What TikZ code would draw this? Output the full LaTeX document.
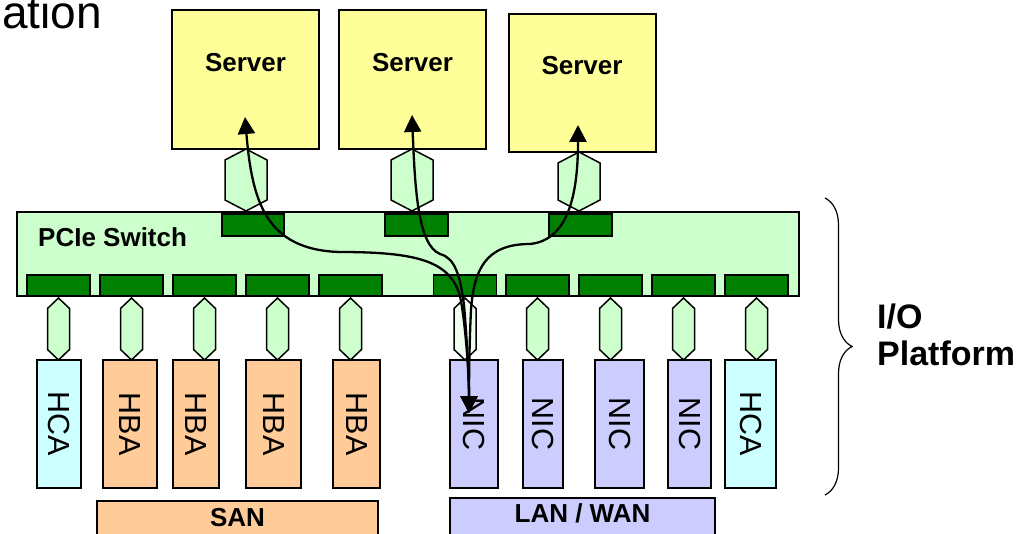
\documentclass[tikz,border=0pt]{standalone}
\usepackage{fontspec}
\usepackage{graphicx}
\setmainfont{Liberation Sans}
\usetikzlibrary{arrows.meta,calc,decorations.pathreplacing}

\definecolor{srvyellow}{HTML}{FFFF99}
\definecolor{swgreen}{HTML}{CCFFCC}
\definecolor{portgreen}{HTML}{008000}
\definecolor{hcacyan}{HTML}{CCFFFF}
\definecolor{hbaorange}{HTML}{FFCC99}
\definecolor{nicblue}{HTML}{CCCCFF}
\definecolor{palegreen}{HTML}{EEFFEE}

\tikzset{
  box/.style={draw=black, line width=1.5pt, inner sep=0pt, outer sep=0pt},
  server/.style={box, fill=srvyellow, minimum width=147pt, minimum height=139pt},
  port/.style={box, fill=portgreen, minimum width=63pt, minimum height=22pt},
  card/.style={box, minimum height=128pt, font=\fontsize{30.5}{30.5}\selectfont},
  bar/.style={box, minimum height=44pt, anchor=north},
  boldlabel/.style={font=\fontsize{26}{26}\selectfont\bfseries, inner sep=0pt},
  link/.style={draw=black, line width=1.5pt, fill=swgreen, line join=miter},
  flow/.style={line width=2.3pt,
    {Triangle[length=17pt 0 0,width=17pt 0 0]}-{Triangle[length=17pt 0 0,width=17pt 0 0]}},
}

% elongated hexagon joining a top point (#2) and a bottom point (#3)
\newcommand\hexlink[5][swgreen]{%
  \draw[link, fill=#1] (#2) -- ($(#2)+(#4,#5)$) -- ($(#3)+(#4,-#5)$) -- (#3)
    -- ($(#3)+(-#4,-#5)$) -- ($(#2)+(-#4,#5)$) -- cycle;}

\begin{document}
\begin{tikzpicture}[x=1pt,y=-1pt]
\useasboundingbox (0,0) rectangle (1030,534);
\clip (0,0) rectangle (1030,534);

% slide title fragment
\node[font=\fontsize{46}{46}\selectfont, anchor=base east, inner sep=0pt] (title) at (102,29) {ation};

% servers
\node[server] (s1) at (245.5,79.5) {};
\node[server] (s2) at (412.5,79.5) {};
\node[server, minimum height=138pt] (s3) at (582.5,83) {};
\node[boldlabel, anchor=base] (s1t) at (245.5,72) {Server};
\node[boldlabel, anchor=base] (s2t) at (412.5,72) {Server};
\node[boldlabel, anchor=base] (s3t) at (582,75) {Server};

% PCIe switch
\node[box, fill=swgreen, minimum width=782pt, minimum height=84pt] (sw) at (408,254) {};
\node[boldlabel, anchor=base west] (swt) at (38,247) {PCIe Switch};

% upstream ports
\node[port, minimum width=62pt] (up1) at (253,225) {};
\node[port] (up2) at (416.5,225) {};
\node[port] (up3) at (580.5,225) {};

% downstream ports
\foreach \i/\x in {1/58.5,2/131.5,3/204.5,4/277.5,5/350.5,6/465,7/537.5,8/610.5,9/683.5,10/756.5}
  \node[port, minimum height=21pt] (dp\i) at (\x,285.5) {};

% server links
\coordinate (h1b) at (246,211);
\coordinate (h2b) at (412,211);
\coordinate (h3b) at (579,211);
\hexlink{s1.south -| h1b}{h1b}{21}{11}
\hexlink{s2.south -| h2b}{h2b}{21}{11}
\hexlink{s3.south -| h3b}{h3b}{21}{11}

% adapter cards
\node[card, fill=hcacyan,   minimum width=44pt] (c1)  at (59,424)    {\rotatebox{-90}{HCA}};
\node[card, fill=hbaorange, minimum width=54pt] (c2)  at (130,424)   {\rotatebox{-90}{HBA}};
\node[card, fill=hbaorange, minimum width=46pt] (c3)  at (196,424)   {\rotatebox{-90}{HBA}};
\node[card, fill=hbaorange, minimum width=55pt] (c4)  at (273.5,424) {\rotatebox{-90}{HBA}};
\node[card, fill=hbaorange, minimum width=47pt] (c5)  at (356.5,424) {\rotatebox{-90}{HBA}};
\node[card, fill=nicblue,   minimum width=48pt] (c6)  at (474,424)   {\rotatebox{-90}{NIC}};
\node[card, fill=nicblue,   minimum width=40pt] (c7)  at (543,424)   {\rotatebox{-90}{NIC}};
\node[card, fill=nicblue,   minimum width=49pt] (c8)  at (619.5,424) {\rotatebox{-90}{NIC}};
\node[card, fill=nicblue,   minimum width=43pt] (c9)  at (689.5,424) {\rotatebox{-90}{NIC}};
\node[card, fill=hcacyan,   minimum width=51pt] (c10) at (750.5,424) {\rotatebox{-90}{HCA}};

% card links
\foreach \i in {1,...,10} {
  \coordinate (lt\i) at ($(dp\i.south)+(0,2)$);
  \coordinate (lb\i) at (dp\i.south |- c\i.north);
}
\foreach \i in {1,2,3,4,5,7,8,9,10} {
  \hexlink{lt\i}{lb\i}{11}{10.5}
}
\hexlink[palegreen]{lt6}{lb6}{11}{10.5}

% network groups
\node[bar, fill=hbaorange, minimum width=281pt] (san) at (237.5,501) {};
\node[boldlabel, anchor=base] (sant) at (237.5,526.5) {SAN};
\node[bar, fill=nicblue, minimum width=265pt] (lan) at (582.5,498) {};
\node[boldlabel, anchor=base] (lant) at (582.5,522) {LAN / WAN};

% data paths from the NIC to each server
\coordinate (nicend) at (469,413);
\coordinate (t1) at (245,117);
\coordinate (t2) at (412,115);
\coordinate (t3) at (578,125);
\draw[flow] (t1) .. controls (252,200) and (265,250) .. (340,252)
  .. controls (420,252) and (450,262) .. (460,296)
  .. controls (465,320) and (469,370) .. (nicend);
\draw[flow] (t2) .. controls (415,190) and (418,245) .. (440,254)
  .. controls (455,258) and (460,275) .. (464,305)
  .. controls (467,340) and (469,380) .. (nicend);
\draw[flow] (t3) .. controls (578,190) and (570,240) .. (530,244)
  .. controls (485,244) and (474,270) .. (471,310)
  .. controls (469,350) and (469,390) .. (nicend);

% I/O platform brace
\draw[decorate, decoration={brace, amplitude=27pt}, line width=1.2pt] (825,198) -- (825,495);
\node[font=\fontsize{34}{36}\selectfont\bfseries, align=left, anchor=base west, inner sep=0pt] (iop) at (877,365) {I/O\\Platform};
\end{tikzpicture}
\end{document}
